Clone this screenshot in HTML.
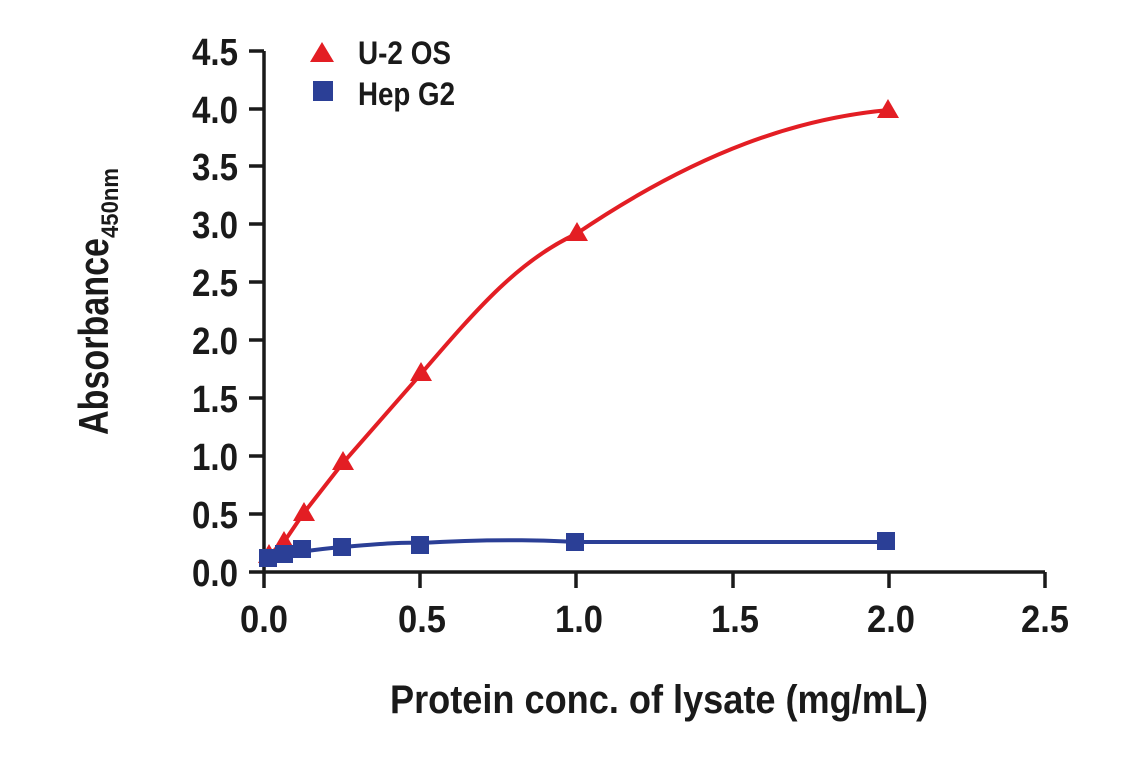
<!DOCTYPE html>
<html><head><style>
body{margin:0;background:#fff;}
svg text{font-family:"Liberation Sans Narrow","Liberation Sans",sans-serif;font-weight:bold;fill:#1a1a1a;}
</style></head><body>
<svg width="1141" height="768" viewBox="0 0 1141 768" xmlns="http://www.w3.org/2000/svg">
<g stroke="#1a1a1a" stroke-width="3.5" fill="none">
<path d="M264,51 V572 H1045"/>
<path d="M249,51H264M249,109H264M249,166H264M249,224H264M249,282H264M249,340H264M249,398H264M249,456H264M249,514H264M249,572H264"/>
<path d="M264,572V588M420,572V588M576,572V588M733,572V588M889,572V588M1045,572V588"/>
</g>
<g font-size="38" text-anchor="end" lengthAdjust="spacingAndGlyphs">
<text x="238" y="65" textLength="46" lengthAdjust="spacingAndGlyphs">4.5</text>
<text x="238" y="123" textLength="46" lengthAdjust="spacingAndGlyphs">4.0</text>
<text x="238" y="180" textLength="46" lengthAdjust="spacingAndGlyphs">3.5</text>
<text x="238" y="238" textLength="46" lengthAdjust="spacingAndGlyphs">3.0</text>
<text x="238" y="296" textLength="46" lengthAdjust="spacingAndGlyphs">2.5</text>
<text x="238" y="354" textLength="46" lengthAdjust="spacingAndGlyphs">2.0</text>
<text x="238" y="412" textLength="46" lengthAdjust="spacingAndGlyphs">1.5</text>
<text x="238" y="470" textLength="46" lengthAdjust="spacingAndGlyphs">1.0</text>
<text x="238" y="528" textLength="46" lengthAdjust="spacingAndGlyphs">0.5</text>
<text x="238" y="586" textLength="46" lengthAdjust="spacingAndGlyphs">0.0</text>
</g>
<g font-size="38" text-anchor="middle">
<text x="264" y="632" textLength="48" lengthAdjust="spacingAndGlyphs">0.0</text>
<text x="422" y="632" textLength="48" lengthAdjust="spacingAndGlyphs">0.5</text>
<text x="579" y="632" textLength="48" lengthAdjust="spacingAndGlyphs">1.0</text>
<text x="735" y="632" textLength="48" lengthAdjust="spacingAndGlyphs">1.5</text>
<text x="891" y="632" textLength="48" lengthAdjust="spacingAndGlyphs">2.0</text>
<text x="1045" y="632" textLength="48" lengthAdjust="spacingAndGlyphs">2.5</text>
</g>
<text x="390" y="713" font-size="40" textLength="538" lengthAdjust="spacingAndGlyphs">Protein conc. of lysate (mg/mL)</text>
<text transform="translate(108,435) rotate(-90)" font-size="42"><tspan textLength="197" lengthAdjust="spacingAndGlyphs">Absorbance</tspan><tspan font-size="24" dy="10" textLength="70" lengthAdjust="spacingAndGlyphs">450nm</tspan></text>
<path d="M268,556 L284,542 L303,514 L342,464 L420,375 C480,305 520,260 576,234 C700,150 800,118 889,110" stroke="#e31e24" stroke-width="4" fill="none"/>
<path d="M268,558 C290,553 320,549 342,547 C380,544 400,542 420,543 C500,538 560,541 575,542 L886,542" stroke="#2b3f96" stroke-width="4" fill="none"/>
<g fill="#e31e24">
<polygon points="269,544 280,563 258,563"/><polygon points="284,531 295,550 273,550"/>
<polygon points="304,502 315,521 293,521"/><polygon points="343,451 354,470 332,470"/>
<polygon points="421,362 432,381 410,381"/><polygon points="577,222 588,241 566,241"/>
<polygon points="888,99 899,118 877,118"/>
<polygon points="322,42 334,62 310,62"/>
</g>
<g fill="#2b3f96">
<rect x="259" y="549" width="18" height="18"/><rect x="275" y="545" width="18" height="18"/>
<rect x="293" y="540" width="18" height="18"/><rect x="333" y="538" width="18" height="18"/>
<rect x="411" y="536" width="18" height="18"/><rect x="566" y="533" width="18" height="18"/>
<rect x="877" y="532" width="18" height="18"/>
<rect x="313" y="81" width="20" height="20"/>
</g>
<g font-size="32">
<text x="358" y="64" textLength="93" lengthAdjust="spacingAndGlyphs">U-2 OS</text>
<text x="358" y="105" textLength="97" lengthAdjust="spacingAndGlyphs">Hep G2</text>
</g>
</svg>
</body></html>
